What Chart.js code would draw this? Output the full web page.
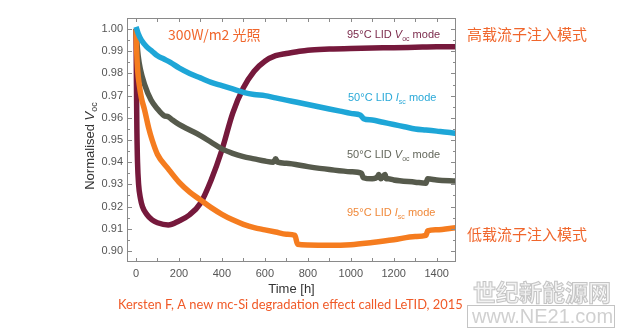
<!DOCTYPE html>
<html>
<head>
<meta charset="utf-8">
<script src="https://cdn.jsdelivr.net/npm/chart.js@4.4.0/dist/chart.umd.min.js"></script>
<style>
  html, body { margin: 0; padding: 0; background: #fff; }
  #wrap { width: 634px; height: 330px; }
</style>
</head>
<body>
<div id="wrap"><canvas id="chart" width="634" height="330"></canvas></div>
<script>
// tick labels
const xTicks = [0, 200, 400, 600, 800, 1000, 1200, 1400]
const yTicks = [0.90, 0.91, 0.92, 0.93, 0.94, 0.95, 0.96, 0.97, 0.98, 0.99, 1.00]

// 50°C LID Isc mode (blue)
const t50Isc = [0, 10, 25, 50, 75, 100, 130, 160, 200, 250, 300, 350, 400, 450, 500, 550, 600, 650, 700, 750, 800, 850, 900, 950, 1000, 1045, 1060, 1100, 1150, 1200, 1250, 1300, 1350, 1400, 1450, 1490]
const v50Isc = [1.001, 0.998, 0.995, 0.992, 0.990, 0.988, 0.9865, 0.985, 0.9825, 0.980, 0.978, 0.976, 0.9745, 0.973, 0.9715, 0.9705, 0.970, 0.969, 0.968, 0.967, 0.966, 0.965, 0.964, 0.963, 0.962, 0.9612, 0.9596, 0.959, 0.958, 0.957, 0.956, 0.955, 0.9545, 0.954, 0.9535, 0.953]

// 95°C LID Isc mode (orange)
const t95Isc = [0, 3, 8, 15, 25, 40, 60, 75, 100, 150, 200, 250, 300, 350, 400, 450, 500, 550, 600, 650, 700, 740, 752, 800, 900, 1000, 1100, 1200, 1300, 1350, 1358, 1400, 1490]
const v95Isc = [1.000, 0.990, 0.981, 0.975, 0.969, 0.9635, 0.955, 0.950, 0.9435, 0.937, 0.931, 0.9265, 0.923, 0.9195, 0.9165, 0.914, 0.912, 0.9105, 0.9095, 0.9085, 0.9075, 0.907, 0.903, 0.9027, 0.9025, 0.9028, 0.9038, 0.905, 0.9065, 0.907, 0.909, 0.9095, 0.9105]

// 50°C LID Voc mode (grey)
const t50Voc = [0, 5, 10, 20, 40, 70, 100, 130, 150, 170, 200, 250, 300, 350, 400, 450, 500, 550, 600, 640, 650, 660, 700, 800, 900, 1000, 1050, 1058, 1100, 1125, 1130, 1140, 1160, 1165, 1175, 1200, 1300, 1350, 1358, 1400, 1490]
const v50Voc = [1.000, 0.993, 0.988, 0.982, 0.975, 0.968, 0.964, 0.961, 0.9605, 0.959, 0.957, 0.9545, 0.952, 0.949, 0.946, 0.944, 0.9425, 0.9415, 0.9405, 0.940, 0.9415, 0.940, 0.9395, 0.938, 0.9367, 0.9357, 0.935, 0.933, 0.9325, 0.9335, 0.9345, 0.9325, 0.9345, 0.9325, 0.9325, 0.932, 0.931, 0.9305, 0.9325, 0.932, 0.9315]

// 95°C LID Voc mode (maroon)
const t95Voc = [0, 2, 4, 7, 12, 20, 30, 50, 75, 100, 150, 200, 250, 300, 350, 400, 450, 500, 550, 600, 650, 700, 750, 800, 900, 1000, 1100, 1200, 1300, 1400, 1490]
const v95Voc = [1.000, 0.975, 0.955, 0.940, 0.930, 0.924, 0.920, 0.9165, 0.914, 0.9127, 0.9117, 0.9135, 0.9163, 0.9215, 0.932, 0.9455, 0.962, 0.9735, 0.981, 0.9855, 0.988, 0.989, 0.9898, 0.9905, 0.991, 0.9913, 0.9915, 0.9916, 0.9918, 0.992, 0.992]

const pts = (t, v) => t.map((x, i) => ({ x: x, y: v[i] }))

const BLUE = "#1ea6d7"
const ORANGE = "#f57c1f"
const GREY = "#565a4c"
const MAROON = "#76193c"
const NOTE = "#f0662c"
const SANS = "'Liberation Sans', Arial, sans-serif"
const CJK = "'Noto Sans CJK SC', sans-serif"

function richText(ctx, parts, x, y, size, color, align) {
  const fontFor = p => (p.italic ? "italic " : "") + (p.sub ? Math.round(size * 0.68) : size) + "px " + SANS
  let total = 0
  parts.forEach(p => { ctx.font = fontFor(p); p.w = ctx.measureText(p.t).width; total += p.w })
  let cx = align === "center" ? x - total / 2 : x
  ctx.fillStyle = color
  ctx.textBaseline = "middle"
  ctx.textAlign = "left"
  parts.forEach(p => {
    ctx.font = fontFor(p)
    ctx.fillText(p.t, cx, y + (p.sub ? size * 0.38 : 0))
    cx += p.w
  })
}

const decorations = {
  id: "decorations",
  afterDraw(chart) {
    const { ctx, chartArea: a, scales: { x, y } } = chart
    ctx.save()

    // frame
    ctx.strokeStyle = "#8a8a8a"
    ctx.lineWidth = 1
    ctx.strokeRect(a.left + 0.5, a.top + 0.5, a.width - 1, a.height - 1)

    // inward ticks on all four sides
    ctx.beginPath()
    for (let t = 0; t <= 1400; t += 100) {
      const px = Math.round(x.getPixelForValue(t)) + 0.5
      ctx.moveTo(px, a.bottom); ctx.lineTo(px, a.bottom - 4)
      ctx.moveTo(px, a.top); ctx.lineTo(px, a.top + 4)
    }
    for (let i = 0; i <= 20; i++) {
      const v = 0.90 + i * 0.005
      const py = Math.round(y.getPixelForValue(v)) + 0.5
      const len = i % 2 === 0 ? 5 : 3
      ctx.moveTo(a.left, py); ctx.lineTo(a.left + len, py)
      ctx.moveTo(a.right, py); ctx.lineTo(a.right - len, py)
    }
    ctx.stroke()

    // axis titles
    ctx.save()
    ctx.translate(90, 146)
    ctx.rotate(-Math.PI / 2)
    richText(ctx, [{ t: "Normalised " }, { t: "V", italic: true }, { t: "oc", sub: true }], 0, 0, 13, "#333", "center")
    ctx.restore()
    richText(ctx, [{ t: "Time [h]" }], (a.left + a.right) / 2, 289, 13, "#333", "center")

    // series labels
    richText(ctx, [{ t: "95°C LID " }, { t: "V", italic: true }, { t: "oc", sub: true }, { t: " mode" }], 347, 35, 11, "#7c2b4c", "left")
    richText(ctx, [{ t: "50°C LID " }, { t: "I", italic: true }, { t: "sc", sub: true }, { t: " mode" }], 348, 98, 11, "#2aa9d8", "left")
    richText(ctx, [{ t: "50°C LID " }, { t: "V", italic: true }, { t: "oc", sub: true }, { t: " mode" }], 347, 155, 11, "#64675c", "left")
    richText(ctx, [{ t: "95°C LID " }, { t: "I", italic: true }, { t: "sc", sub: true }, { t: " mode" }], 347, 213, 11, "#f0893a", "left")

    // notes
    ctx.fillStyle = NOTE
    ctx.textBaseline = "middle"
    ctx.textAlign = "left"
    ctx.font = "14px " + CJK
    ctx.fillText("300W/m2 光照", 168, 35)
    ctx.font = "15px " + CJK
    ctx.fillText("高载流子注入模式", 467, 34)
    ctx.fillText("低载流子注入模式", 467, 234)

    // citation
    const cite = "Kersten F, A new mc-Si degradation effect called LeTID, 2015"
    ctx.font = "13px Lato, sans-serif"
    const size = 13 * 345 / ctx.measureText(cite).width
    ctx.font = size.toFixed(2) + "px Lato, sans-serif"
    ctx.fillStyle = "#f05a28"
    ctx.fillText(cite, 118, 305)

    // watermark
    ctx.strokeStyle = "#c4c4c4"
    ctx.fillStyle = "#f3f3f3"
    ctx.lineWidth = 1
    ctx.font = "bold 23px " + CJK
    ctx.fillText("世纪新能源网", 473, 292)
    ctx.strokeText("世纪新能源网", 473, 292)
    ctx.strokeRect(467.5, 305.5, 147, 22)
    ctx.font = "20px " + SANS
    ctx.fillStyle = "#d0d0d0"
    ctx.fillText("www.NE21.com", 472, 317)

    ctx.restore()
  }
}

new Chart(document.getElementById("chart"), {
  type: "line",
  data: {
    datasets: [
      { label: "50°C LID Isc mode", data: pts(t50Isc, v50Isc), borderColor: BLUE },
      { label: "95°C LID Isc mode", data: pts(t95Isc, v95Isc), borderColor: ORANGE },
      { label: "50°C LID Voc mode", data: pts(t50Voc, v50Voc), borderColor: GREY },
      { label: "95°C LID Voc mode", data: pts(t95Voc, v95Voc), borderColor: MAROON }
    ]
  },
  options: {
    responsive: false,
    animation: false,
    layout: { padding: { left: 97, right: 178, top: 18, bottom: 48 } },
    elements: {
      point: { radius: 0 },
      line: { borderWidth: 5.5, cubicInterpolationMode: "monotone", fill: false }
    },
    plugins: {
      legend: { display: false },
      tooltip: { enabled: false }
    },
    scales: {
      x: {
        type: "linear",
        min: -42,
        max: 1490,
        afterFit: s => { s.height = 20 },
        afterBuildTicks: s => { s.ticks = xTicks.map(v => ({ value: v })) },
        grid: { display: false, drawTicks: false },
        border: { display: false },
        ticks: {
          padding: 5,
          maxRotation: 0,
          autoSkip: false,
          color: "#555",
          font: { family: SANS, size: 11 },
          callback: v => String(v)
        }
      },
      y: {
        type: "linear",
        min: 0.895,
        max: 1.005,
        afterFit: s => { s.width = 30 },
        afterBuildTicks: s => { s.ticks = yTicks.map(v => ({ value: v })) },
        grid: { display: false, drawTicks: false },
        border: { display: false },
        ticks: {
          padding: 4,
          autoSkip: false,
          color: "#555",
          font: { family: SANS, size: 11 },
          callback: v => v.toFixed(2)
        }
      }
    }
  },
  plugins: [decorations]
})
</script>
</body>
</html>
